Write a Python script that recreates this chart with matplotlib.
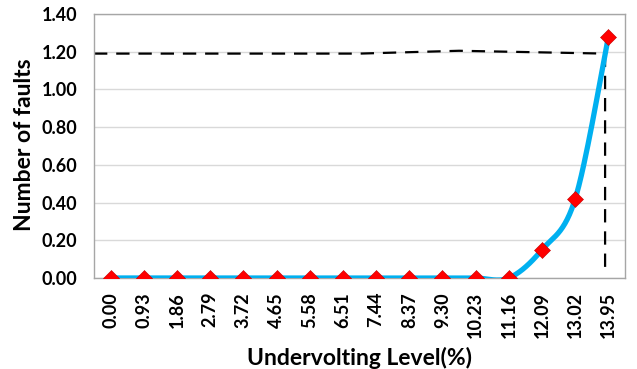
import numpy as np
import matplotlib.pyplot as plt

levels = ['0.00', '0.93', '1.86', '2.79', '3.72', '4.65', '5.58', '6.51',
          '7.44', '8.37', '9.30', '10.23', '11.16', '12.09', '13.02', '13.95']
faults = [0, 0, 0, 0, 0, 0, 0, 0, 0, 0, 0, 0, 0, 0.15, 0.42, 1.28]

# hand-drawn dashed guide (category position, value)
guide_x = [0.0, 4.0, 8.0, 11.0, 15.4, 15.4]
guide_y = [1.19, 1.19, 1.19, 1.205, 1.19, 0.03]


def smooth(xs, ys, n=30):
    # Excel-like smoothed line (cardinal bezier)
    xs = np.asarray(xs, float)
    ys = np.asarray(ys, float)
    px, py = [], []
    t = np.linspace(0, 1, n)
    for i in range(len(xs) - 1):
        x0, y0 = (xs[i - 1], ys[i - 1]) if i > 0 else (xs[i], ys[i])
        x3, y3 = (xs[i + 2], ys[i + 2]) if i + 2 < len(xs) else (xs[i + 1], ys[i + 1])
        x1, y1, x2, y2 = xs[i], ys[i], xs[i + 1], ys[i + 1]
        c1x = x1 + (x2 - x0) / 6
        c1y = y1 + (y2 - y0) / 6
        c2x = x2 - (x3 - x1) / 6
        c2y = y2 - (y3 - y1) / 6
        bx = (1-t)**3*x1 + 3*(1-t)**2*t*c1x + 3*(1-t)*t**2*c2x + t**3*x2
        by = (1-t)**3*y1 + 3*(1-t)**2*t*c1y + 3*(1-t)*t**2*c2y + t**3*y2
        px.extend(bx)
        py.extend(by)
    return px, py


plt.rcParams['font.family'] = ['Lato', 'DejaVu Sans']
plt.rcParams['font.weight'] = 'bold'

fig = plt.figure(figsize=(6.37, 3.69), dpi=100)
ax = fig.add_axes([94/637, 1 - 278/369, (625-94)/637, (278-14)/369])

pos = np.arange(len(levels)) + 0.5
sx, sy = smooth(pos, faults)
ax.plot(sx, sy, color='#00B0F0', lw=3.8, zorder=3, solid_capstyle='round')
ax.plot(pos, faults, ls='none', marker='D', ms=8, color='#FF0000',
        markeredgecolor='#C00000', markeredgewidth=0.4, zorder=4)
ax.plot(guide_x, guide_y, color='black', lw=1.6, ls=(0, (6, 4)), zorder=2)

ax.set_xlim(0, len(levels))
ax.set_ylim(0, 1.4)
ax.set_yticks(np.arange(0, 1.41, 0.2))
ax.set_yticklabels(['%.2f' % v for v in np.arange(0, 1.41, 0.2)], fontsize=13, fontweight='bold')
ax.set_xticks(pos)
ax.set_xticklabels(levels, rotation=90, fontsize=13, fontweight='bold')
ax.tick_params(axis='y', length=0, pad=12)
ax.tick_params(axis='x', length=0, pad=10)
ax.grid(axis='y', color='#D9D9D9', lw=1)
ax.set_axisbelow(True)
for s in ax.spines.values():
    s.set_color('#A6A6A6')
    s.set_linewidth(1)

ax.set_xlabel('Undervolting Level(%)', fontsize=16.5, fontweight='bold')
ax.set_ylabel('Number of faults', fontsize=16.5, fontweight='bold')
ax.xaxis.set_label_coords((359.5 - 94) / 531, -(358 - 278) / 264)
ax.yaxis.set_label_coords(-(94 - 25) / 531, (278 - 145) / 264)
ax.xaxis.label.set_va('center')
ax.yaxis.label.set_va('center')

fig.savefig('out.png', dpi=100)
